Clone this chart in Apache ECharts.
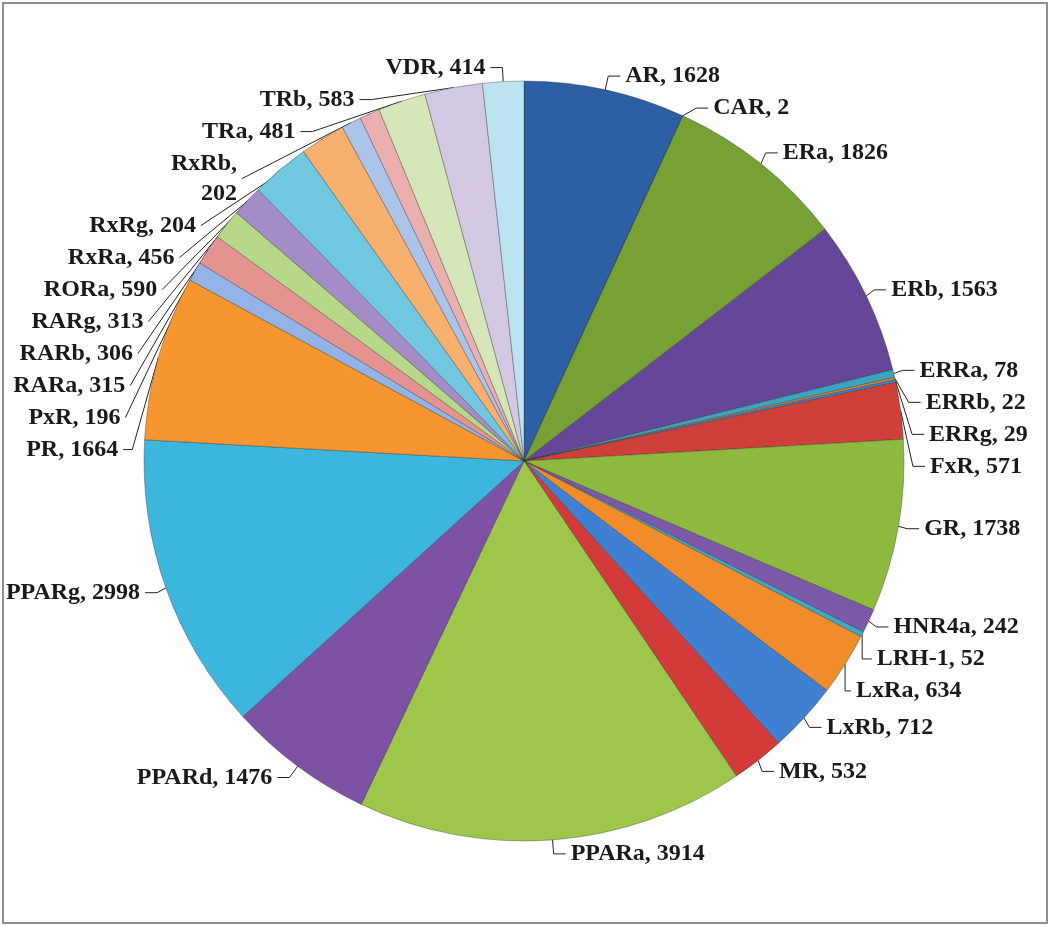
<!DOCTYPE html>
<html>
<head>
<meta charset="utf-8">
<script src="https://cdn.jsdelivr.net/npm/echarts@6/dist/echarts.min.js"></script>
<style>
  html, body { margin: 0; padding: 0; background: #fff; }
  #frame {
    position: absolute; left: 2px; top: 2px;
    width: 1042px; height: 918px;
    border: 2px solid #8f8f8f;
  }
  #chart { width: 1042px; height: 918px; }
</style>
</head>
<body>
<div id="frame"><div id="chart"></div></div>
<script>
// receptor names, clockwise from 12 o'clock
const receptors = ['AR', 'CAR', 'ERa', 'ERb', 'ERRa', 'ERRb', 'ERRg', 'FxR', 'GR', 'HNR4a',
  'LRH-1', 'LxRa', 'LxRb', 'MR', 'PPARa', 'PPARd', 'PPARg', 'PR', 'PxR', 'RARa',
  'RARb', 'RARg', 'RORa', 'RxRa', 'RxRb', 'RxRg', 'TRa', 'TRb', 'VDR']
const counts = [1628, 2, 1826, 1563, 78, 22, 29, 571, 1738, 242,
  52, 634, 712, 532, 3914, 1476, 2998, 1664, 196, 315,
  306, 313, 590, 456, 202, 204, 481, 583, 414]
const sliceColors = ['#2c5fa3', '#b03a33', '#77a035', '#65479a', '#3ba5c0', '#e88b2e', '#4a7ec4', '#d0403a', '#8dba3e', '#7b58a8',
  '#3da9cc', '#f08c2a', '#3f80d2', '#d33a3a', '#9dc64b', '#7d52a5', '#3cb6dc', '#f7952e', '#94b3e6', '#e59391',
  '#b6d888', '#a48dc6', '#72c8e0', '#f8b06e', '#adc4ea', '#ebafb0', '#d5e6b8', '#d4c9e3', '#bce3f0']

const chart = echarts.init(document.getElementById('chart'))

const option = {
  animation: false,
  series: [{
    type: 'pie',
    center: [520, 457],
    radius: [0, 380],
    startAngle: 90,
    clockwise: true,
    avoidLabelOverlap: true,
    data: receptors.map((name, i) => ({
      name: name,
      value: counts[i],
      itemStyle: { color: sliceColors[i] }
    })),
    itemStyle: {
      borderColor: 'rgba(40,40,40,0.35)',
      borderWidth: 1
    },
    label: {
      show: true,
      position: 'outside',
      overflow: 'none',
      formatter: p => p.name === 'RxRb' ? p.name + ',\n' + p.value : p.name + ', ' + p.value,
      fontFamily: '"Liberation Serif", "Times New Roman", serif',
      fontWeight: 'bold',
      fontSize: 24,
      color: '#1a1a1a',
      lineHeight: 30
    },
    labelLine: {
      show: true,
      length: 14,
      length2: 12,
      lineStyle: { color: '#222', width: 1 }
    }
  }]
}

chart.setOption(option)
</script>
</body>
</html>
